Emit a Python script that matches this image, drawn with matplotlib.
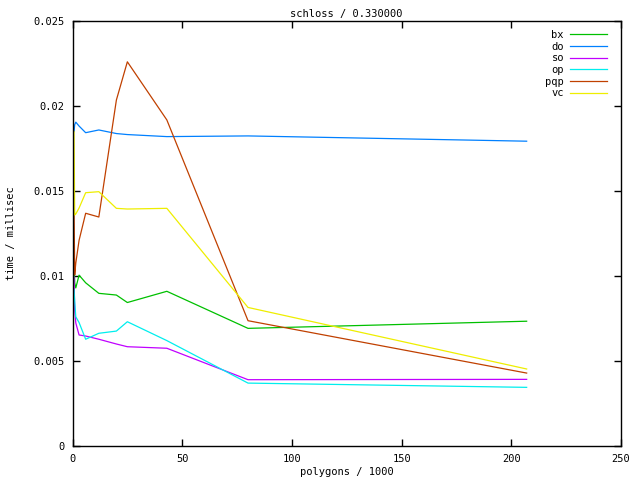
import matplotlib
matplotlib.use('Agg')
import matplotlib.pyplot as plt

# polygon counts (in 1000) of the schloss model levels
polygons = [0.7, 1.0, 1.5, 3, 6, 12, 20, 25, 43, 80, 207]

# time per frame in millisec for each method
bx = [0.0111, 0.0096, 0.0093, 0.01005, 0.0096, 0.00898, 0.00888, 0.00844, 0.0091, 0.00692, 0.00734]
do = [0.0185, 0.0189, 0.01905, 0.01882, 0.01843, 0.01859, 0.01838, 0.01832, 0.0182, 0.01824, 0.01793]
so = [0.00994, 0.0080, 0.00724, 0.00653, 0.00647, 0.00628, 0.0060, 0.00584, 0.00575, 0.0039, 0.00392]
op = [0.0092, 0.0085, 0.0076, 0.00726, 0.00628, 0.00663, 0.00676, 0.00731, 0.0062, 0.0037, 0.00345]
pqp = [0.01406, 0.01006, 0.01076, 0.0121, 0.01369, 0.01347, 0.02035, 0.0226, 0.01918, 0.00737, 0.00429]
vc = [0.0185, 0.01359, 0.01365, 0.0140, 0.0149, 0.01496, 0.01398, 0.01394, 0.01398, 0.00815, 0.00453]

names = ['bx', 'do', 'so', 'op', 'pqp', 'vc']
colors = ['#00c000', '#0080ff', '#c000ff', '#00eeee', '#c04000', '#eeee00']

plt.rcParams['font.family'] = ['DejaVu Sans Mono']
plt.rcParams['font.size'] = 7.5

fig = plt.figure(figsize=(6.4, 4.8), dpi=100)
ax = fig.add_axes([72.5 / 640, 34 / 480, 548.5 / 640, 425 / 480])

for name, vals, col in zip(names, [bx, do, so, op, pqp, vc], colors):
    ax.plot(polygons, vals, color=col, linewidth=0.9, label=name)

ax.set_xlim(0, 250)
ax.set_ylim(0, 0.025)
ax.set_xticks([0, 50, 100, 150, 200, 250])
ax.set_yticks([0, 0.005, 0.01, 0.015, 0.02, 0.025])
ax.set_yticklabels(['0', '0.005', '0.01', '0.015', '0.02', '0.025'])
ax.tick_params(direction='in', top=True, right=True, length=5, width=1, pad=6)
for s in ax.spines.values():
    s.set_linewidth(1)

ax.set_title('schloss / 0.330000', fontsize=7.5, pad=3)
ax.set_xlabel('polygons / 1000', labelpad=2)
ax.set_ylabel('time / millisec', labelpad=12)

leg = ax.legend(loc='upper right', frameon=False, markerfirst=False,
                handlelength=3.5, handletextpad=0.6, labelspacing=0.16,
                borderaxespad=0.45, bbox_to_anchor=(0.99, 1.0))
for t in leg.get_texts():
    t.set_ha('right')

fig.savefig('out.png', dpi=100)
